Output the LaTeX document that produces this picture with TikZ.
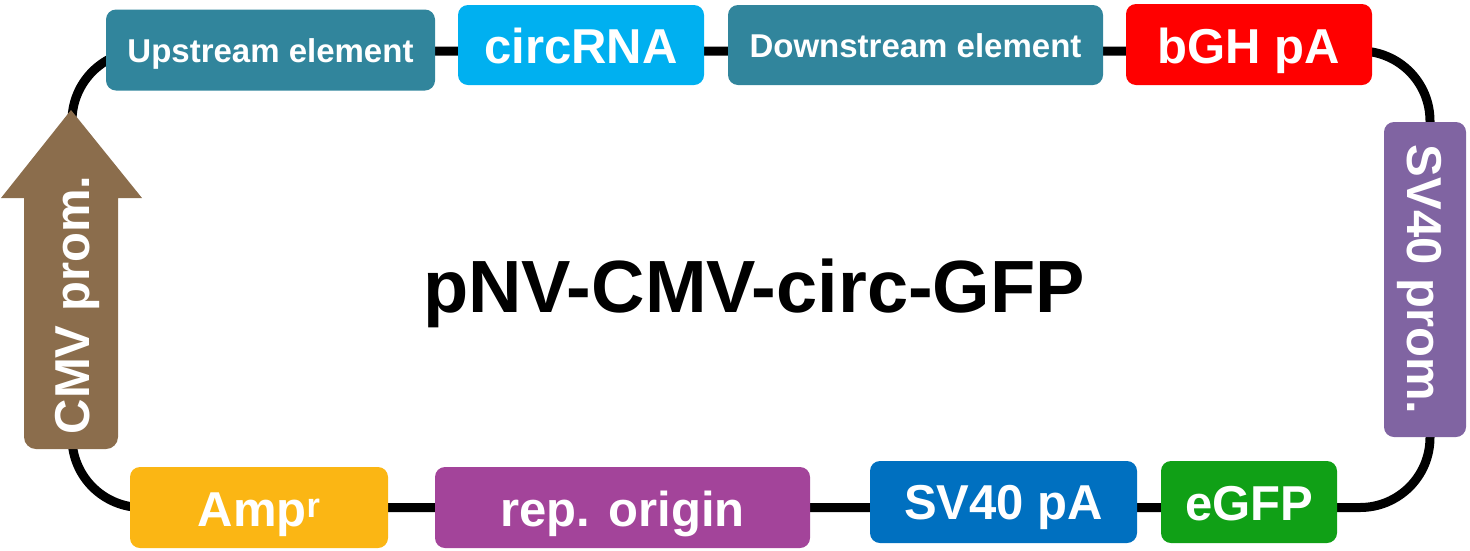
\documentclass[tikz,border=0pt]{standalone}
\usepackage{fontspec}
\setmainfont{Liberation Sans}
\definecolor{cteal}{HTML}{31859C}
\definecolor{ccyan}{HTML}{00B0F0}
\definecolor{cred}{HTML}{FF0000}
\definecolor{cpurple}{HTML}{8064A2}
\definecolor{cgreen}{HTML}{10A016}
\definecolor{cblue}{HTML}{0070C0}
\definecolor{cmag}{HTML}{A3449A}
\definecolor{camber}{HTML}{FBB614}
\definecolor{cbrown}{HTML}{8B6D4C}
\begin{document}
\begin{tikzpicture}[x=1pt,y=-1pt,
  elem/.style={rectangle, rounded corners=10pt, inner sep=0pt, text=white,
    font=\bfseries\fontsize{49}{55}\selectfont},
  small/.style={font=\bfseries\fontsize{33}{38}\selectfont},
  bigshift/.style={text height={35pt+#1}, text depth={-#1}},
  smallshift/.style={text height={23.6pt+#1}, text depth={-#1}},
  backbone/.style={line width=9pt, draw=black, rounded corners=70pt}]
\useasboundingbox (0,0) rectangle (1470,550);
\coordinate (tl) at (72,51);
\coordinate (br) at (1430,507.5);
\draw[backbone] (tl) rectangle (br);
% CMV promoter arrow
\fill[cbrown] (71,110) -- (142,198) -- (118,198)
  [rounded corners=12pt] -- (118,449) -- (24,449) [sharp corners] -- (24,198) -- (1,198) -- cycle;
\node[inner sep=0pt, text=white, font=\bfseries\fontsize{49}{55}\selectfont, bigshift=2.5pt, rotate=90] (cmv) at (71,305) {CMV prom.};
% top
\node[elem, small, smallshift=1pt, fill=cteal, minimum width=329pt, minimum height=81pt] (up) at (270.5,50) {Upstream element};
\node[elem, bigshift=2pt, fill=ccyan, minimum width=246pt, minimum height=80pt] (circ) at (581,45) {circRNA};
\node[elem, small, smallshift=1pt, fill=cteal, minimum width=375pt, minimum height=80pt] (down) at (915.5,45) {Downstream element};
\node[elem, bigshift=2.5pt, fill=cred, minimum width=246pt, minimum height=81pt] (bgh) at (1249,44.5) {bGH pA};
% right
\node[elem, bigshift=0.5pt, fill=cpurple, minimum width=315pt, minimum height=82pt, rotate=-90] (svprom) at (1425,279.5) {SV40 prom.};
% bottom
\node[elem, bigshift=2pt, fill=cgreen, minimum width=176pt, minimum height=82pt] (egfp) at (1249,502) {eGFP};
\node[elem, bigshift=0.5pt, fill=cblue, minimum width=267pt, minimum height=82pt] (svpa) at (1003.5,502) {SV40 pA};
\node[elem, bigshift=3pt, fill=cmag, minimum width=375pt, minimum height=81pt] (rep) at (622.5,507.5) {rep. origin};
\node[elem, bigshift=3pt, fill=camber, minimum width=258pt, minimum height=81pt] (amp) at (259,507.5) {Amp\textsuperscript{r}};
% title
\node[anchor=base, inner sep=0pt, font=\bfseries\fontsize{74}{80}\selectfont] (title) at (754,312) {pNV-CMV-circ-GFP};
\end{tikzpicture}
\end{document}
